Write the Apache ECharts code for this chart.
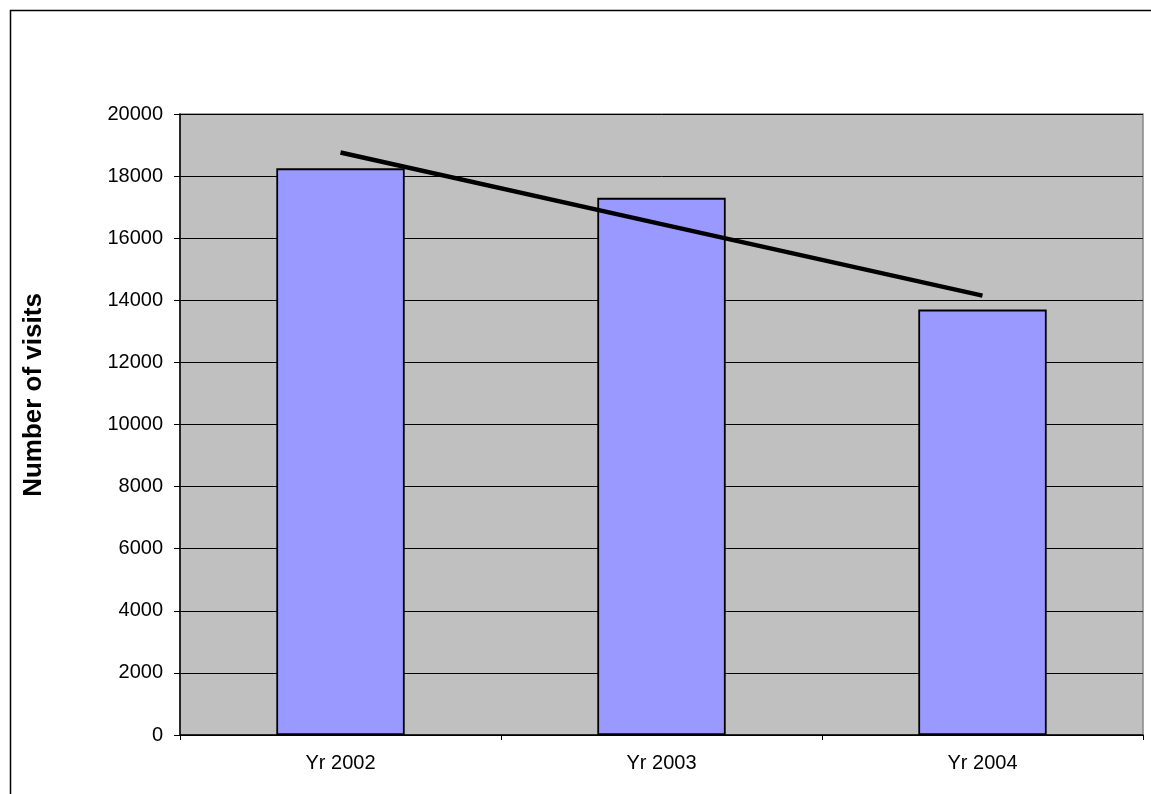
<!DOCTYPE html>
<html>
<head>
<meta charset="utf-8">
<script src="https://cdn.jsdelivr.net/npm/echarts@6/dist/echarts.min.js"></script>
<style>
  html, body { margin: 0; padding: 0; background: #fff; }
  #chart { width: 1151px; height: 794px; }
</style>
</head>
<body>
<div id="chart"></div>
<script>
// Yearly visit counts with a linear trend line
var categories = ['Yr 2002', 'Yr 2003', 'Yr 2004'];
var visits = [18250, 17300, 13700];
var trend = [18760, 16455, 14150];
var yTicks = { min: 0, max: 20000, interval: 2000 };

var chart = echarts.init(document.getElementById('chart'), null, { renderer: 'canvas' });

var font = 'Arial, "Liberation Sans", sans-serif';

chart.setOption({
  animation: false,
  backgroundColor: '#ffffff',
  graphic: [
    {
      type: 'rect',
      shape: { x: 10.5, y: 10.5, width: 1160, height: 800 },
      style: { fill: 'none', stroke: '#000', lineWidth: 1.5 },
      z: 0
    },
    {
      type: 'text',
      x: 34,
      y: 395,
      rotation: Math.PI / 2,
      style: {
        text: 'Number of visits',
        font: 'bold 26px ' + font,
        fill: '#000',
        textAlign: 'center',
        textVerticalAlign: 'middle'
      },
      z: 10
    }
  ],
  grid: {
    left: 180, right: 8, top: 114, bottom: 59,
    show: true,
    backgroundColor: '#C0C0C0',
    borderColor: '#888888',
    borderWidth: 1.5
  },
  xAxis: {
    type: 'category',
    data: categories,
    boundaryGap: true,
    axisLine: { show: true, lineStyle: { color: '#000', width: 1.5 } },
    axisTick: { show: true, alignWithLabel: false, length: 5, lineStyle: { color: '#000', width: 1 } },
    axisLabel: { color: '#000', fontSize: 20, fontFamily: font, margin: 18 },
    splitLine: { show: false }
  },
  yAxis: {
    type: 'value',
    min: yTicks.min,
    max: yTicks.max,
    interval: yTicks.interval,
    axisLine: { show: true, lineStyle: { color: '#000', width: 1.5 } },
    axisTick: { show: true, length: 6, lineStyle: { color: '#000', width: 1 } },
    axisLabel: {
      color: '#000', fontSize: 20, fontFamily: font, margin: 17,
      formatter: function (v) { return String(v); }
    },
    splitLine: { show: true, lineStyle: { color: '#000', width: 1 } }
  },
  series: [
    {
      type: 'bar',
      data: visits,
      barWidth: '40%',
      itemStyle: { color: '#9999FF', borderColor: '#000', borderWidth: 1.8 },
      z: 2
    },
    {
      type: 'line',
      data: trend,
      symbol: 'none',
      lineStyle: { color: '#000', width: 4.5 },
      z: 3
    }
  ]
});
</script>
</body>
</html>
